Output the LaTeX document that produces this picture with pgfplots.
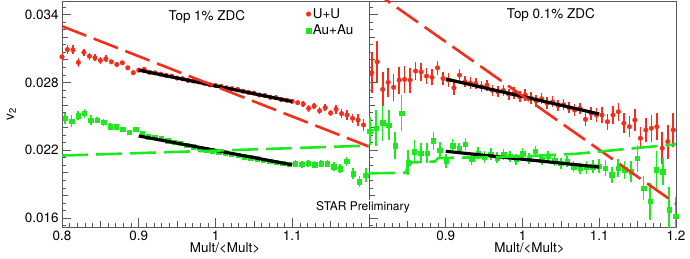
\documentclass[border=0pt]{standalone}
\usepackage{fontspec}
\setmainfont{TeX Gyre Heros}
\usepackage{pgfplots}
\pgfplotsset{compat=1.18}
\definecolor{rred}{RGB}{245,45,25}
\definecolor{rgreen}{RGB}{30,232,30}
\newcommand{\fs}{\fontsize{13.5}{16}\selectfont}
\pgfplotsset{
  box/.style={scale only axis, width=307bp, height=226bp,
    xmin=0.8, xmax=1.2, ymin=0.0152, ymax=0.0352},
  panel/.style={box,
    axis line style={black!65, line width=0.9pt},
    tick style={black!65, line width=0.6pt},
    xtick={0.8,0.9,1.0,1.1,1.2},
    minor xtick={0.8,0.81,...,1.2},
    extra x ticks={0.85,0.95,1.05,1.15},
    extra x tick labels={},
    extra x tick style={major tick length=6bp},
    ytick={0.016,0.022,0.028,0.034},
    minor ytick={0.0153333,0.016,...,0.0352},
    extra y ticks={0.018,0.020,0.024,0.026,0.030,0.032},
    extra y tick labels={},
    extra y tick style={major tick length=6bp},
    scaled y ticks=false,
    yticklabel style={/pgf/number format/.cd, fixed, fixed zerofill, precision=3},
    /pgf/number format/assume math mode=true,
    tick align=inside, xtick pos=bottom, ytick pos=left,
    major tick length=9bp, minor tick length=4bp,
    ticklabel style={font=\fs},
    label style={font=\fs},
  },
  overlay/.style={box, hide axis},
  errs/.style={error bars/y dir=both, error bars/y explicit, error bars/error mark=none},
  rpts/.style={only marks, mark=*, mark size=2.3bp, color=rred,
    mark options={draw=rred, fill=rred},
    errs, error bars/error bar style={line width=1.6bp, rred}},
  gpts/.style={only marks, mark=square*, mark size=2.2bp, color=rgreen,
    mark options={draw=rgreen, fill=rgreen},
    errs, error bars/error bar style={line width=1.6bp, rgreen}},
  fitline/.style={no markers, black, line width=3.2bp},
  dline/.style={no markers, line width=2.6bp, dash pattern=on 26bp off 8bp},
}
\begin{document}
\begin{tikzpicture}
\useasboundingbox (-62bp,-32bp) rectangle (628bp,227bp);
% ---------------- left panel ----------------
\begin{axis}[panel,
  at={(0,0)}, anchor=south west,
  xticklabels={0.8,0.9,1,1.1,},
  xlabel={Mult/<Mult>},
  xlabel style={at={(axis description cs:0.531,-0.093)}, anchor=center},
  ylabel={v\textsubscript{2}},
  ylabel style={at={(axis description cs:-0.165,0.5)}, anchor=center},
  legend style={at={(axis description cs:0.795,0.977)}, anchor=north west, draw=none, fill=none,
    font=\fs, row sep=1.5bp, inner sep=0pt},
  legend cell align=left,
  legend image code/.code={\draw[mark repeat=2,mark phase=2,#1] plot coordinates {(0bp,0bp) (3bp,0bp) (14bp,0bp)};},
]
\addplot[rpts] table[x index=0, y index=1, y error index=2] {
0.8000 0.03026 0.0004
0.8071 0.03090 0.0004
0.8143 0.03088 0.0004
0.8214 0.02976 0.0004
0.8286 0.03065 0.0003
0.8357 0.03032 0.0003
0.8429 0.03017 0.0003
0.8500 0.02994 0.0003
0.8571 0.03008 0.0003
0.8643 0.02982 0.0002
0.8714 0.02959 0.0002
0.8786 0.02973 0.0002
0.8857 0.02929 0.0002
0.8929 0.02885 0.0002
0.9000 0.02908 0.0002
0.9071 0.02915 0.0002
0.9143 0.02888 0.0002
0.9214 0.02884 0.0002
0.9286 0.02872 0.0002
0.9357 0.02862 0.0002
0.9429 0.02855 0.0002
0.9500 0.02838 0.0002
0.9571 0.02832 0.0002
0.9643 0.02818 0.0002
0.9714 0.02812 0.0002
0.9786 0.02805 0.0002
0.9857 0.02792 0.0002
0.9929 0.02778 0.0002
1.0000 0.02772 0.0002
1.0071 0.02765 0.0002
1.0143 0.02752 0.0002
1.0214 0.02744 0.0002
1.0286 0.02738 0.0002
1.0357 0.02722 0.0002
1.0429 0.02712 0.0002
1.0500 0.02705 0.0002
1.0571 0.02688 0.0002
1.0643 0.02684 0.0002
1.0714 0.02668 0.0002
1.0786 0.02664 0.0002
1.0857 0.02648 0.0002
1.0929 0.02642 0.0002
1.1000 0.02632 0.0002
1.1071 0.02620 0.0002
1.1143 0.02608 0.0003
1.1214 0.02570 0.0003
1.1286 0.02590 0.0003
1.1357 0.02549 0.0003
1.1429 0.02576 0.0003
1.1500 0.02529 0.0003
1.1571 0.02562 0.0004
1.1643 0.02523 0.0004
1.1714 0.02511 0.0004
1.1786 0.02482 0.0004
1.1857 0.02467 0.0005
1.1929 0.02423 0.0005
};
\addlegendentry{U+U}
\addplot[gpts] table[x index=0, y index=1, y error index=2] {
0.8042 0.02482 0.0005
0.8125 0.02458 0.0005
0.8208 0.02505 0.0004
0.8292 0.02526 0.0004
0.8375 0.02467 0.0004
0.8458 0.02467 0.0003
0.8542 0.02447 0.0003
0.8625 0.02408 0.0003
0.8708 0.02408 0.0002
0.8792 0.02388 0.0002
0.8875 0.02359 0.0002
0.8958 0.02388 0.0002
0.9042 0.02350 0.0002
0.9125 0.02320 0.0002
0.9208 0.02314 0.0002
0.9292 0.02306 0.0002
0.9375 0.02285 0.0002
0.9458 0.02272 0.0002
0.9542 0.02262 0.0002
0.9625 0.02246 0.0002
0.9708 0.02232 0.0002
0.9792 0.02218 0.0002
0.9875 0.02205 0.0002
0.9958 0.02196 0.0002
1.0042 0.02186 0.0002
1.0125 0.02176 0.0002
1.0208 0.02164 0.0002
1.0292 0.02156 0.0002
1.0375 0.02142 0.0002
1.0458 0.02134 0.0002
1.0542 0.02126 0.0002
1.0625 0.02112 0.0002
1.0708 0.02102 0.0002
1.0792 0.02094 0.0002
1.0875 0.02082 0.0002
1.0958 0.02075 0.0002
1.1042 0.02079 0.0003
1.1125 0.02076 0.0003
1.1208 0.02085 0.0003
1.1292 0.02070 0.0003
1.1375 0.02079 0.0003
1.1458 0.02079 0.0003
1.1542 0.02055 0.0004
1.1625 0.02035 0.0004
1.1708 0.02100 0.0004
1.1792 0.01991 0.0005
1.1875 0.01922 0.0005
1.1958 0.01980 0.0006
};
\addlegendentry{Au+Au}
\node[anchor=west, font=\fs] at (rel axis cs:0.3355,0.929) {Top 1\% ZDC};
\end{axis}
\begin{axis}[overlay, at={(0,0)}, anchor=south west]
\addplot[fitline] coordinates {(0.9,0.02908) (1.1,0.02630)};
\addplot[fitline] coordinates {(0.9,0.02326) (1.1,0.02070)};
\addplot[dline, rred] coordinates {(0.8,0.03297) (1.2,0.02232)};
\addplot[dline, rgreen] coordinates {(0.8,0.02152) (1.2,0.02240)};
\end{axis}
% ---------------- right panel ----------------
\begin{axis}[panel,
  at={(307bp,0)}, anchor=south west,
  xticklabels={,0.9,1,1.1,1.2},
  yticklabels={},
  xlabel={Mult/<Mult>},
  xlabel style={at={(axis description cs:0.523,-0.093)}, anchor=center},
]
\addplot[rpts] table[x index=0, y index=1, y error index=2] {
0.8036 0.02885 0.0018
0.8107 0.02982 0.0018
0.8179 0.02738 0.0015
0.8250 0.02800 0.0013
0.8321 0.02756 0.0012
0.8393 0.02820 0.0012
0.8464 0.02826 0.0012
0.8536 0.02820 0.0011
0.8607 0.02900 0.0008
0.8679 0.02893 0.0008
0.8750 0.02855 0.0007
0.8821 0.02844 0.0007
0.8893 0.02929 0.0006
0.8964 0.02835 0.0006
0.9036 0.02820 0.0006
0.9107 0.02752 0.0006
0.9179 0.02864 0.0005
0.9250 0.02805 0.0005
0.9321 0.02795 0.0005
0.9393 0.02790 0.0005
0.9464 0.02762 0.0005
0.9536 0.02775 0.0005
0.9607 0.02730 0.0005
0.9679 0.02718 0.0005
0.9750 0.02728 0.0005
0.9821 0.02695 0.0005
0.9893 0.02705 0.0005
0.9964 0.02672 0.0005
1.0036 0.02688 0.0005
1.0107 0.02662 0.0005
1.0179 0.02636 0.0005
1.0250 0.02655 0.0005
1.0321 0.02618 0.0005
1.0393 0.02628 0.0005
1.0464 0.02595 0.0005
1.0536 0.02602 0.0005
1.0607 0.02575 0.0005
1.0679 0.02555 0.0005
1.0750 0.02570 0.0005
1.0821 0.02473 0.0006
1.0893 0.02526 0.0006
1.0964 0.02511 0.0006
1.1036 0.02511 0.0007
1.1107 0.02452 0.0007
1.1179 0.02511 0.0008
1.1250 0.02540 0.0008
1.1321 0.02438 0.0009
1.1393 0.02408 0.0009
1.1464 0.02467 0.0010
1.1536 0.02306 0.0010
1.1607 0.02379 0.0011
1.1679 0.02394 0.0012
1.1750 0.02408 0.0012
1.1821 0.02217 0.0014
1.1893 0.02276 0.0015
1.1964 0.02379 0.0015
};
\addplot[gpts] table[x index=0, y index=1, y error index=2] {
0.8010 0.02370 0.0012
0.8093 0.02394 0.0016
0.8176 0.02443 0.0016
0.8259 0.02423 0.0013
0.8342 0.02240 0.0012
0.8425 0.02526 0.0016
0.8508 0.02090 0.0011
0.8591 0.02187 0.0010
0.8674 0.02173 0.0009
0.8757 0.02173 0.0009
0.8840 0.02282 0.0008
0.8923 0.02202 0.0007
0.9006 0.02105 0.0006
0.9089 0.02238 0.0006
0.9172 0.02217 0.0005
0.9255 0.02255 0.0005
0.9338 0.02120 0.0005
0.9421 0.02175 0.0005
0.9504 0.02140 0.0005
0.9587 0.02165 0.0005
0.9670 0.02132 0.0005
0.9753 0.02160 0.0005
0.9836 0.02142 0.0005
0.9919 0.02118 0.0005
1.0002 0.02168 0.0005
1.0085 0.02125 0.0005
1.0168 0.02190 0.0005
1.0251 0.02115 0.0005
1.0334 0.02145 0.0005
1.0417 0.02110 0.0005
1.0500 0.02085 0.0005
1.0583 0.02098 0.0005
1.0666 0.02055 0.0005
1.0749 0.02040 0.0005
1.0832 0.02048 0.0006
1.0915 0.02055 0.0006
1.0998 0.02060 0.0006
1.1081 0.02040 0.0007
1.1164 0.01982 0.0007
1.1247 0.02040 0.0008
1.1330 0.02026 0.0008
1.1413 0.02011 0.0009
1.1496 0.02130 0.0012
1.1579 0.01865 0.0011
1.1662 0.01746 0.0016
1.1745 0.02026 0.0017
1.1828 0.02011 0.0012
1.1911 0.01673 0.0020
1.1994 0.01614 0.0017
};
\node[anchor=west, font=\fs] at (rel axis cs:0.438,0.938) {Top 0.1\% ZDC};
\end{axis}
\begin{axis}[overlay, at={(307bp,0)}, anchor=south west]
\addplot[fitline] coordinates {(0.9,0.02830) (1.1,0.02520)};
\addplot[fitline] coordinates {(0.9,0.02190) (1.1,0.02050)};
\addplot[dline, rred] coordinates {(0.8,0.03636) (1.2,0.01726)};
\addplot[dline, rgreen] coordinates {(0.8,0.01995) (0.848,0.0200) (0.852,0.0209) (0.886,0.0210) (0.890,0.0213) (1.0,0.02145) (1.07,0.02168) (1.2,0.02252)};
\end{axis}
\node[fill=white, inner sep=1.5bp, font=\fontsize{12}{14}\selectfont] at (301bp,20bp) {STAR Preliminary};
\end{tikzpicture}
\end{document}
